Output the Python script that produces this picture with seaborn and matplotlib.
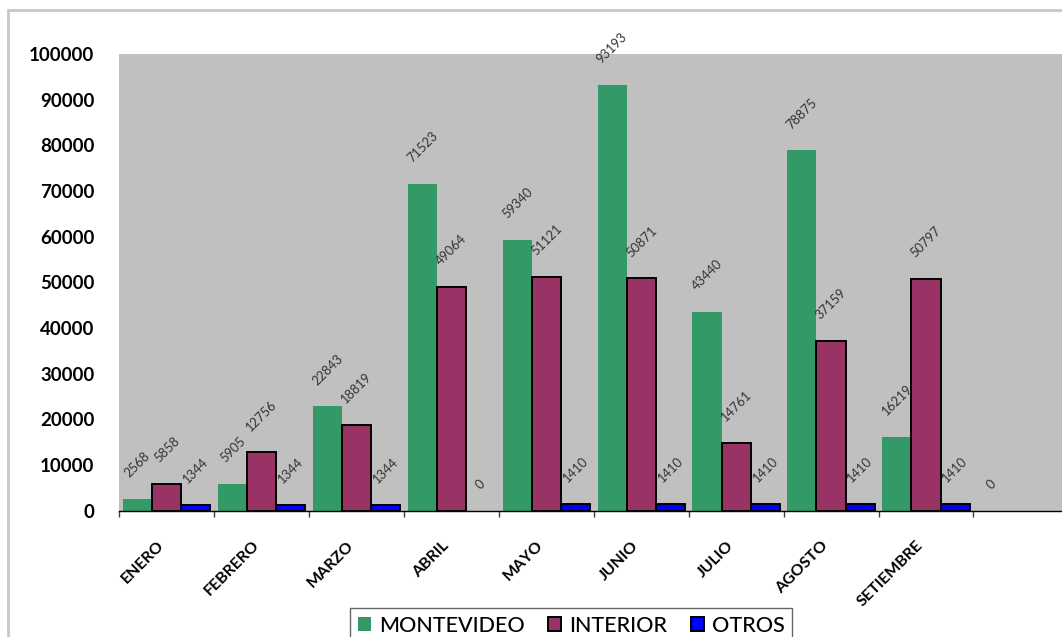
import numpy as np
import pandas as pd
import matplotlib
matplotlib.use("Agg")
import matplotlib.pyplot as plt
from matplotlib.patches import Patch, Rectangle
import seaborn as sns

months = ["ENERO", "FEBRERO", "MARZO", "ABRIL", "MAYO", "JUNIO", "JULIO",
          "AGOSTO", "SETIEMBRE", " "]
montevideo = [2568, 5905, 22843, 71523, 59340, 93193, 43440, 78875, 16219, 0]
interior = [5858, 12756, 18819, 49064, 51121, 50871, 14761, 37159, 50797, np.nan]
otros = [1344, 1344, 1344, 0, 1410, 1410, 1410, 1410, 1410, np.nan]
series = ["MONTEVIDEO", "INTERIOR", "OTROS"]
colors = {"MONTEVIDEO": "#339966", "INTERIOR": "#993366", "OTROS": "#0000FF"}
yticks = [0, 10000, 20000, 30000, 40000, 50000, 60000, 70000, 80000, 90000, 100000]

plt.rcParams["font.family"] = ["Lato", "DejaVu Sans"]

df = pd.DataFrame({
    "mes": months * 3,
    "serie": ["MONTEVIDEO"] * len(months) + ["INTERIOR"] * len(months) + ["OTROS"] * len(months),
    "valor": montevideo + interior + otros,
})

fig = plt.figure(figsize=(10.62, 6.37), dpi=100)
W, H = 1062, 637
x0, x1 = 119.3, 119.3 + 10 * 94.9
y0, y1 = 510.7, 54
ax = fig.add_axes([x0 / W, 1 - y0 / H, (x1 - x0) / W, (y0 - y1) / H])
ax.set_facecolor("#C0C0C0")

sns.barplot(data=df, x="mes", y="valor", hue="serie", order=months,
            hue_order=series, palette=colors, width=0.92, gap=0,
            linewidth=0, saturation=1, legend=False, ax=ax, errorbar=None)

for i, cont in enumerate(ax.containers):
    for b in cont:
        h = b.get_height()
        if i > 0 and np.isfinite(h) and h > 0:
            b.set_edgecolor("black")
            b.set_linewidth(1.4)
        else:
            b.set_linewidth(0)
    labels = [f"{v:.0f}" if np.isfinite(v) else "" for v in cont.datavalues]
    ax.bar_label(cont, labels=labels, padding=14, rotation=45, fontsize=9.3,
                 color="#333333")

ax.set_xlim(-0.5, len(months) - 0.5)
ax.set_ylim(0, 100000)
ax.set_yticks(yticks)
ax.set_yticklabels([str(t) for t in yticks], fontsize=13.5, fontweight="bold")
ax.tick_params(axis="y", length=0, pad=18)
ax.set_xticks(range(len(months)))
ax.set_xticklabels(months, rotation=45, ha="right", fontsize=11.5, fontweight="bold")
ax.tick_params(axis="x", which="major", length=0, pad=20)
ax.set_xticks(np.arange(-0.5, len(months) - 0.4, 1), minor=True)
ax.tick_params(axis="x", which="minor", length=4, width=1, color="#404040")
ax.set_xlabel("")
ax.set_ylabel("")
for s in ["top", "right", "left"]:
    ax.spines[s].set_visible(False)
ax.spines["bottom"].set_color("black")
ax.spines["bottom"].set_linewidth(1.0)
ax.grid(False)

handles = [
    Patch(facecolor=colors["MONTEVIDEO"], edgecolor="none", label="MONTEVIDEO"),
    Patch(facecolor=colors["INTERIOR"], edgecolor="black", linewidth=1.4, label="INTERIOR"),
    Patch(facecolor=colors["OTROS"], edgecolor="black", linewidth=1.4, label="OTROS"),
]
leg = fig.legend(handles=handles, loc="upper center", bbox_to_anchor=(571 / W, 1 - 608 / H),
                 ncol=3, fontsize=15.5, frameon=True, fancybox=False, handlelength=0.62,
                 handleheight=0.62, handletextpad=0.35, columnspacing=1.1,
                 borderpad=0.35, borderaxespad=0)
leg.get_frame().set_edgecolor("#404040")
leg.get_frame().set_linewidth(1.0)
for t in leg.get_texts():
    t.set_fontweight("medium")

fig.patches.append(Rectangle((8 / W, -0.1), 1.2, 1 - 10 / H + 0.1, transform=fig.transFigure,
                             fill=False, edgecolor="#C8C8C8", linewidth=2, zorder=-1))

fig.savefig("out.png", dpi=100)
